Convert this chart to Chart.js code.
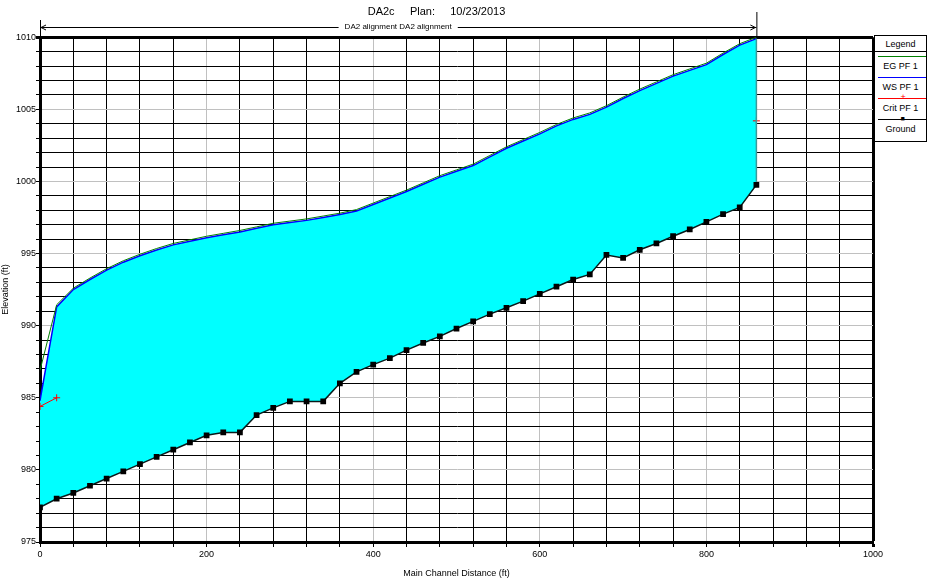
<!DOCTYPE html>
<html>
<head>
<meta charset="utf-8">
<title>DA2c Plan 10/23/2013</title>
<script src="https://cdn.jsdelivr.net/npm/chart.js@4.4.0/dist/chart.umd.min.js"></script>
<style>
    html, body { margin: 0; padding: 0; background: #fff; }
    #wrap { position: relative; width: 927px; height: 579px; }
    #legend {
        position: absolute; left: 874px; top: 35px; width: 51px; height: 105px;
        border: 1px solid #000; background: #fff;
        font-family: 'Liberation Sans Narrow', 'Liberation Sans', Arial, sans-serif;
        font-size: 9px; text-align: center; color: #000;
    }
    #legend .head { height: 15px; line-height: 17px; border-bottom: 1px solid #000; }
    #legend .item { position: relative; height: 21px; }
    #legend .line { position: absolute; left: 3px; right: 0; top: 4px; border-top: 1px solid #000; }
    #legend .mark { position: absolute; left: 50%; font-size: 9px; line-height: 1; }
    #legend .label { position: absolute; left: 0; right: 0; top: 9px; }
</style>
</head>
<body>
<div id="wrap">
    <canvas id="profileChart" width="927" height="579"></canvas>
    <div id="legend"><div class="head">Legend</div></div>
</div>
<script>
// 측점 (ft)
const stations = [0, 20, 40, 60, 80, 100, 120, 140, 160, 180, 200, 220, 240, 260, 280, 300, 320, 340, 360, 380, 400,
    420, 440, 460, 480, 500, 520, 540, 560, 580, 600, 620, 640, 660, 680, 700, 720, 740, 760, 780, 800, 820, 840, 860];

const groundElev = [977.4, 978.0, 978.4, 978.9, 979.4, 979.9, 980.4, 980.9, 981.4, 981.9, 982.4, 982.6, 982.6, 983.8,
    984.3, 984.75, 984.75, 984.75, 986.0, 986.8, 987.3, 987.75, 988.3, 988.8, 989.26, 989.8, 990.3, 990.8, 991.24,
    991.7, 992.2, 992.7, 993.2, 993.55, 994.9, 994.7, 995.26, 995.7, 996.2, 996.67, 997.2, 997.73, 998.2, 999.76];

const wsElev = [984.8, 991.3, 992.5, 993.2, 993.85, 994.4, 994.85, 995.25, 995.6, 995.85, 996.1, 996.3, 996.5, 996.75,
    997.0, 997.15, 997.3, 997.5, 997.7, 997.95, 998.4, 998.85, 999.3, 999.8, 1000.3, 1000.7, 1001.1, 1001.7, 1002.3,
    1002.8, 1003.3, 1003.85, 1004.3, 1004.65, 1005.15, 1005.75, 1006.3, 1006.8, 1007.3, 1007.7, 1008.1, 1008.8,
    1009.45, 1009.9];

const egElev = [986.9, 991.45, 992.6, 993.3, 993.95, 994.5, 994.95, 995.35, 995.7, 995.95, 996.2, 996.4, 996.6, 996.85,
    997.1, 997.25, 997.4, 997.6, 997.8, 998.05, 998.5, 998.95, 999.4, 999.9, 1000.4, 1000.8, 1001.2, 1001.8, 1002.4,
    1002.9, 1003.4, 1003.95, 1004.4, 1004.75, 1005.25, 1005.85, 1006.4, 1006.9, 1007.4, 1007.8, 1008.2, 1008.9,
    1009.55, 1010.0];

const critElev = [984.4, 985.0, null, null, null, null, null, null, null, null, null, null, null, null, null, null,
    null, null, null, null, null, null, null, null, null, null, null, null, null, null, null, null, null, null, null,
    null, null, null, null, null, null, null, null, 1004.2];

const xTickLabels = [0, 200, 400, 600, 800, 1000];
const yTickLabels = [975, 980, 985, 990, 995, 1000, 1005, 1010];

const seriesNames = ['EG PF 1', 'WS PF 1', 'Crit PF 1', 'Ground'];
const seriesColors = ['#008000', '#0000ff', '#ff0000', '#000000'];
const seriesMarks = ['', '', '+', '■'];

const FONT = "'Liberation Sans Narrow', 'Liberation Sans', Arial, sans-serif";

function toPoints(values) {
    return stations.map((s, i) => ({ x: s, y: values[i] }));
}

// 범례 (HTML)
const legendBox = document.getElementById('legend');
seriesNames.forEach((name, i) => {
    const item = document.createElement('div');
    item.className = 'item';
    const line = document.createElement('div');
    line.className = 'line';
    line.style.borderTopColor = seriesColors[i];
    item.appendChild(line);
    if (seriesMarks[i]) {
        const mark = document.createElement('span');
        mark.className = 'mark';
        mark.style.color = seriesColors[i];
        mark.style.top = seriesMarks[i] === '+' ? '-1px' : '0px';
        mark.style.fontSize = seriesMarks[i] === '+' ? '9px' : '7px';
        mark.textContent = seriesMarks[i];
        item.appendChild(mark);
    }
    const label = document.createElement('div');
    label.className = 'label';
    label.textContent = name;
    item.appendChild(label);
    legendBox.appendChild(item);
});

// 상단 구간 화살표 + 우측 끝 수면 경계선
const alignPlugin = {
    id: 'alignBar',
    afterDatasetsDraw(chart) {
        const { ctx, scales: { x, y } } = chart;
        const last = stations.length - 1;
        const xe = x.getPixelForValue(stations[last]);
        ctx.save();
        ctx.strokeStyle = '#3a9a9a';
        ctx.lineWidth = 1.5;
        ctx.beginPath();
        ctx.moveTo(xe, y.getPixelForValue(wsElev[last]));
        ctx.lineTo(xe, y.getPixelForValue(groundElev[last]) - 3);
        ctx.stroke();
        ctx.restore();
    },
    afterDraw(chart) {
        const { ctx, chartArea, scales: { x } } = chart;
        const x0 = x.getPixelForValue(stations[0]);
        const x1 = x.getPixelForValue(stations[stations.length - 1]);
        const yy = 27;
        const text = 'DA2 alignment DA2 alignment';
        ctx.save();
        ctx.strokeStyle = '#000';
        ctx.fillStyle = '#000';
        ctx.lineWidth = 1;
        ctx.font = '8px ' + FONT;
        const tw = ctx.measureText(text).width;
        const xm = (x0 + x1) / 2;
        ctx.beginPath();
        ctx.moveTo(x0 + 0.5, 20);
        ctx.lineTo(x0 + 0.5, chartArea.top);
        ctx.moveTo(x1 + 0.5, 12);
        ctx.lineTo(x1 + 0.5, chartArea.top);
        ctx.moveTo(x0, yy + 0.5);
        ctx.lineTo(xm - tw / 2 - 6, yy + 0.5);
        ctx.moveTo(xm + tw / 2 + 6, yy + 0.5);
        ctx.lineTo(x1, yy + 0.5);
        ctx.stroke();
        ctx.beginPath();
        ctx.moveTo(x0 + 1, yy + 0.5);
        ctx.lineTo(x0 + 6, yy - 2);
        ctx.moveTo(x0 + 1, yy + 0.5);
        ctx.lineTo(x0 + 6, yy + 3);
        ctx.moveTo(x1 - 1, yy + 0.5);
        ctx.lineTo(x1 - 6, yy - 2);
        ctx.moveTo(x1 - 1, yy + 0.5);
        ctx.lineTo(x1 - 6, yy + 3);
        ctx.stroke();
        ctx.textAlign = 'center';
        ctx.textBaseline = 'middle';
        ctx.fillText(text, xm, yy);
        ctx.restore();
    }
};

document.addEventListener('DOMContentLoaded', function() {
    Chart.defaults.font.family = FONT;
    Chart.defaults.color = '#000';

    const ctx = document.getElementById('profileChart').getContext('2d');

    new Chart(ctx, {
        type: 'line',
        data: {
            datasets: [
                {
                    label: seriesNames[0],
                    data: toPoints(egElev),
                    borderColor: seriesColors[0],
                    borderWidth: 1,
                    pointRadius: 0,
                    fill: false,
                    tension: 0
                },
                {
                    label: seriesNames[1],
                    data: toPoints(wsElev),
                    borderColor: seriesColors[1],
                    borderWidth: 1.5,
                    pointRadius: 0,
                    backgroundColor: '#00ffff',
                    fill: 3,
                    tension: 0
                },
                {
                    label: seriesNames[2],
                    data: toPoints(critElev),
                    borderColor: seriesColors[2],
                    borderWidth: 1,
                    pointStyle: 'cross',
                    pointRadius: 3.5,
                    pointBorderColor: seriesColors[2],
                    pointBorderWidth: 1,
                    spanGaps: false,
                    fill: false,
                    tension: 0
                },
                {
                    label: seriesNames[3],
                    data: toPoints(groundElev),
                    borderColor: '#0a1a1a',
                    borderWidth: 1.5,
                    pointStyle: 'rect',
                    pointRadius: 3,
                    pointBackgroundColor: '#000',
                    pointBorderColor: '#000',
                    fill: false,
                    tension: 0
                }
            ]
        },
        options: {
            responsive: false,
            animation: false,
            layout: { padding: { top: 0, right: 54, bottom: 0, left: 0 } },
            plugins: {
                legend: { display: false },
                tooltip: { enabled: false },
                filler: { drawTime: 'beforeDatasetsDraw' },
                title: {
                    display: true,
                    text: 'DA2c     Plan:     10/23/2013',
                    font: { size: 11, weight: 'normal' },
                    padding: { top: 5, bottom: 19 }
                }
            },
            scales: {
                x: {
                    type: 'linear',
                    min: 0,
                    max: 1000,
                    afterFit: s => { s.height = 37; },
                    ticks: {
                        stepSize: 40,
                        autoSkip: false,
                        maxRotation: 0,
                        padding: 2,
                        font: { size: 9 },
                        callback: v => xTickLabels.includes(v) ? String(v) : ''
                    },
                    grid: {
                        color: c => (c.tick && xTickLabels.includes(c.tick.value) && c.tick.value !== 0 && c.tick.value !== 1000) ? '#c0c0c0' : '#000',
                        lineWidth: c => (c.tick && c.tick.value === 1000) ? 3 : 1,
                        tickColor: '#000',
                        tickLength: 5
                    },
                    border: { color: '#000', width: 3 },
                    title: {
                        display: true,
                        text: 'Main Channel Distance (ft)',
                        font: { size: 9 },
                        padding: { top: 4, bottom: 0 }
                    }
                },
                y: {
                    type: 'linear',
                    min: 975,
                    max: 1010,
                    afterFit: s => { s.width = 40; },
                    ticks: {
                        stepSize: 1,
                        autoSkip: false,
                        padding: 0,
                        font: { size: 9 },
                        callback: v => yTickLabels.includes(v) ? String(v) : ''
                    },
                    grid: {
                        color: c => (c.tick && yTickLabels.includes(c.tick.value) && c.tick.value !== 975 && c.tick.value !== 1010) ? '#c0c0c0' : '#000',
                        lineWidth: c => (c.tick && c.tick.value === 1010) ? 3 : 1,
                        tickColor: '#000',
                        tickLength: 4
                    },
                    border: { color: '#000', width: 3 },
                    title: {
                        display: true,
                        text: 'Elevation (ft)',
                        font: { size: 9 },
                        padding: { top: 0, bottom: 6 }
                    }
                }
            }
        },
        plugins: [alignPlugin]
    });
});
</script>
</body>
</html>
